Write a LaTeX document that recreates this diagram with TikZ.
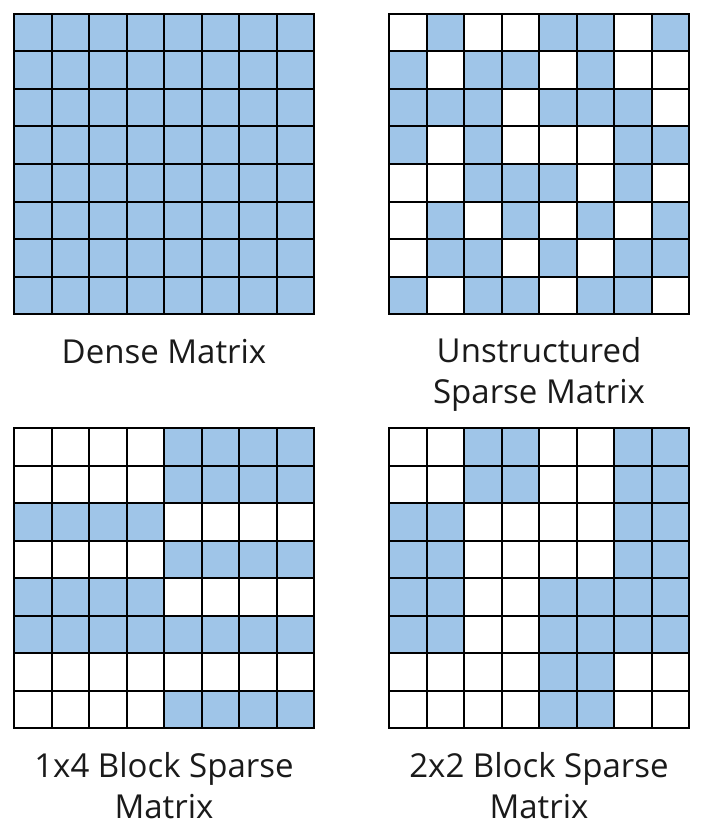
\documentclass[tikz,border=0pt]{standalone}
\usepackage{fontspec}
\setmainfont{Open Sans}
\definecolor{cellblue}{RGB}{159,197,232}
\definecolor{txtcol}{RGB}{26,26,26}
\tikzset{
  cellfill/.style={fill=cellblue},
  gridline/.style={draw=black, line width=2pt, line cap=rect},
  lbl/.style={font=\fontsize{33}{41}\selectfont, align=center, text=txtcol, inner sep=0pt},
}
\newcommand\drawbitmatrix[3]{%
  \foreach \rowbits [count=\r] in {#3} {
    \foreach \b [count=\c] in \rowbits {
      \ifnum\b=1 \fill[cellfill] ({#1+(\c-1)*37.5},{#2+(\r-1)*37.5}) rectangle ++(37.5,37.5);\fi
    }
  }
  \foreach \i in {0,...,8} {
    \draw[gridline] ({#1+\i*37.5},#2) -- ++(0,300);
    \draw[gridline] (#1,{#2+\i*37.5}) -- ++(300,0);
  }
}
\begin{document}
\begin{tikzpicture}[x=1pt,y=-1pt]
  \useasboundingbox (0,0) rectangle (707,832);
  % Dense
  \drawbitmatrix{14}{14}{{1,1,1,1,1,1,1,1},{1,1,1,1,1,1,1,1},{1,1,1,1,1,1,1,1},{1,1,1,1,1,1,1,1},{1,1,1,1,1,1,1,1},{1,1,1,1,1,1,1,1},{1,1,1,1,1,1,1,1},{1,1,1,1,1,1,1,1}}
  % Unstructured
  \drawbitmatrix{389}{14}{{0,1,0,0,1,1,0,1},{1,0,1,1,0,1,0,0},{1,1,1,0,1,1,1,0},{1,0,1,0,0,0,1,1},{0,0,1,1,1,0,1,0},{0,1,0,1,0,1,0,1},{0,1,1,0,1,0,1,1},{1,0,1,1,0,1,1,0}}
  % 1x4
  \drawbitmatrix{14}{428}{{0,0,0,0,1,1,1,1},{0,0,0,0,1,1,1,1},{1,1,1,1,0,0,0,0},{0,0,0,0,1,1,1,1},{1,1,1,1,0,0,0,0},{1,1,1,1,1,1,1,1},{0,0,0,0,0,0,0,0},{0,0,0,0,1,1,1,1}}
  % 2x2
  \drawbitmatrix{389}{428}{{0,0,1,1,0,0,1,1},{0,0,1,1,0,0,1,1},{1,1,0,0,0,0,1,1},{1,1,0,0,0,0,1,1},{1,1,0,0,1,1,1,1},{1,1,0,0,1,1,1,1},{0,0,0,0,1,1,0,0},{0,0,0,0,1,1,0,0}}
  % labels
  \node[lbl] (labA) at (164,352) {Dense Matrix};
  \node[lbl] (labB) at (539,374.5) {Unstructured\\Sparse Matrix};
  \node[lbl] (labC) at (164,786) {1x4 Block Sparse\\Matrix};
  \node[lbl] (labD) at (539,786) {2x2 Block Sparse\\Matrix};
\end{tikzpicture}
\end{document}
